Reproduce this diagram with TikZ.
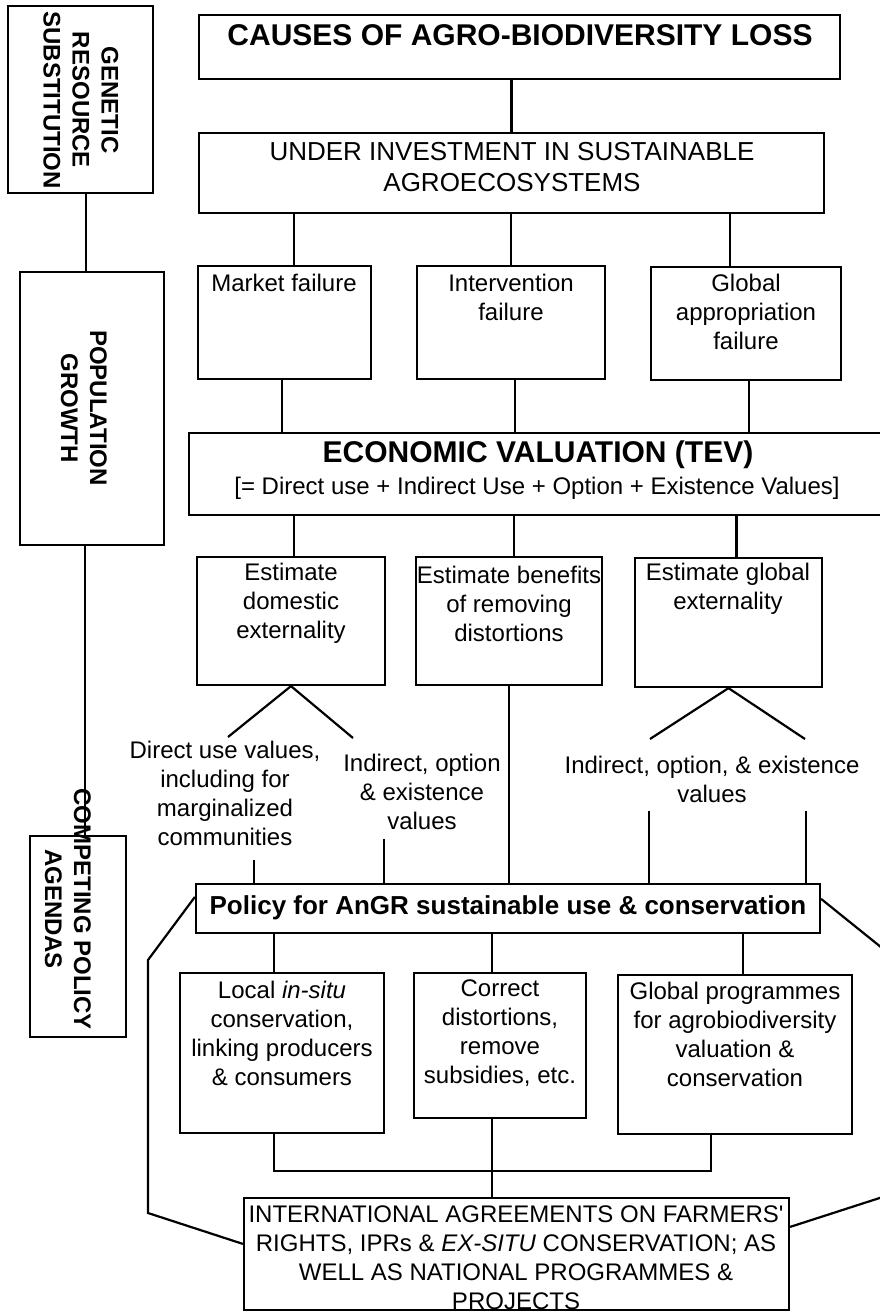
\documentclass[tikz,border=0pt]{standalone}
\usepackage{fontspec}
\setmainfont{Liberation Sans}
\usetikzlibrary{fit}
\begin{document}
\begin{tikzpicture}[x=1pt,y=-1pt,
  box/.style={draw, line width=2.2pt, inner sep=0pt},
  conn/.style={draw, line width=2.2pt},
  txt/.style={inner sep=0pt, align=center, font=\fontsize{24}{29}\selectfont},
  btxt/.style={inner sep=0pt, align=center, font=\bfseries\fontsize{24}{29}\selectfont},
  rtxt/.style={btxt, rotate=-90},
]
\useasboundingbox (0,0) rectangle (880,1312);
\clip (0,0) rectangle (880,1312);
\fill[white] (0,0) rectangle (880,1312);

% ---- left column: background drivers
\node[box, fit={(8,6) (153,193)}] (gen) {};
\node[rtxt] (gent) at (81,100) {GENETIC\\RESOURCE\\SUBSTITUTION};
\node[box, fit={(20,272) (164,545)}] (pop) {};
\node[rtxt] (popt) at (84,408) {POPULATION\\GROWTH};
\node[box, fit={(30,836) (126,1037)}] (comp) {};
\node[rtxt] (compt) at (68,909) {COMPETING POLICY\\AGENDAS};
\draw[conn] ([xshift=5.5]gen.south) -- ([xshift=5.5]gen.south |- pop.north);
\draw[conn] ([xshift=-7]pop.south) -- ([xshift=-7]pop.south |- comp.north);

% ---- causes
\node[box, fit={(199,15) (840,79)}] (cause) {};
\node[btxt, font=\bfseries\fontsize{30}{36}\selectfont] (causet) at (520,35) {CAUSES OF AGRO-BIODIVERSITY LOSS};
\node[box, fit={(199,133) (824,213)}] (inv) {};
\node[txt, font=\fontsize{26}{31}\selectfont] (invt) at (512,167.5) {UNDER INVESTMENT IN SUSTAINABLE\\AGROECOSYSTEMS};
\draw[conn] (inv.north |- cause.south) -- (inv.north);

% ---- failures
\node[box, fit={(198,266) (371,379)}] (mf) {};
\node[txt] (mft) at (284,283) {Market failure};
\node[box, fit={(417,266) (605,379)}] (if) {};
\node[txt] (ift) at (511,297.5) {Intervention\\failure};
\node[box, fit={(651,267) (841,380)}] (gf) {};
\node[txt] (gft) at (746,312) {Global\\appropriation\\failure};
\draw[conn] ([xshift=9.5]mf.north |- inv.south) -- ([xshift=9.5]mf.north);
\draw[conn] (if.north |- inv.south) -- (if.north);
\draw[conn] ([xshift=-16]gf.north |- inv.south) -- ([xshift=-16]gf.north);

% ---- economic valuation
\node[box, fit={(189,433) (886,515)}] (tev) {};
\node[btxt, font=\bfseries\fontsize{30}{36}\selectfont] (teva) at (538,455) {ECONOMIC VALUATION (TEV)};
\node[txt] (tevb) at (537,488) {{[}= Direct use + Indirect Use + Option + Existence Values{]}};
\draw[conn] ([xshift=-2.5]mf.south) -- ([xshift=-2.5]mf.south |- tev.north);
\draw[conn] ([xshift=4]if.south) -- ([xshift=4]if.south |- tev.north);
\draw[conn] ([xshift=3]gf.south) -- ([xshift=3]gf.south |- tev.north);

% ---- estimates
\node[box, fit={(197,557) (385,685)}] (dom) {};
\node[txt] (domt) at (291,603.5) {Estimate\\domestic\\externality};
\node[box, fit={(416,557) (602,685)}] (ben) {};
\node[txt] (bent) at (509,603.5) {Estimate benefits\\of removing\\distortions};
\node[box, fit={(635,558) (822,687)}] (gex) {};
\node[txt] (gext) at (728,589) {Estimate global\\externality};
\draw[conn] ([xshift=3]dom.north |- tev.south) -- ([xshift=3]dom.north);
\draw[conn] ([xshift=5]ben.north |- tev.south) -- ([xshift=5]ben.north);
\draw[conn] ([xshift=8]gex.north |- tev.south) -- ([xshift=8]gex.north);

% ---- value components
\node[txt] (dv) at (225,793.5) {Direct use values,\\including for\\marginalized\\communities};
\node[txt] (iv) at (422,791.5) {Indirect, option\\\& existence\\values};
\node[txt] (gv) at (712,779) {Indirect, option, \& existence\\values};
\coordinate (dvl) at (228,737);
\coordinate (dvr) at (353,738);
\coordinate (gvl) at (650,739);
\coordinate (gvr) at (805,739);
\draw[conn] (dvl) -- (dom.south) -- (dvr);
\draw[conn] (gvl) -- (gex.south) -- (gvr);

% ---- policy
\node[box, fit={(196,884) (820,933)}] (pol) {};
\node[btxt, font=\bfseries\fontsize{26}{31}\selectfont] (polt) at (508,908) {Policy for AnGR sustainable use \& conservation};
\coordinate (dvb) at (254,860);
\coordinate (ivb) at (384,839);
\coordinate (gvbl) at (649,811);
\coordinate (gvbr) at (806,811);
\draw[conn] (dvb) -- (dvb |- pol.north);
\draw[conn] (ivb) -- (ivb |- pol.north);
\draw[conn] (ben.south) -- (ben.south |- pol.north);
\draw[conn] (gvbl) -- (gvbl |- pol.north);
\draw[conn] (gvbr) -- (gvbr |- pol.north);

% ---- instruments
\node[box, fit={(180,973) (384,1133)}] (loc) {};
\node[txt] (loct) at (282,1033) {Local \textit{in-situ}\\conservation,\\linking producers\\\& consumers};
\node[box, fit={(414,973) (586,1118)}] (cor) {};
\node[txt] (cort) at (500,1033) {Correct\\distortions,\\remove\\subsidies, etc.};
\node[box, fit={(618,975) (852,1134)}] (glp) {};
\node[txt] (glpt) at (735,1034) {Global programmes\\for agrobiodiversity\\valuation \&\\conservation};
\draw[conn] ([xshift=-8]loc.north |- pol.south) -- ([xshift=-8]loc.north);
\draw[conn] ([xshift=-8]cor.north |- pol.south) -- ([xshift=-8]cor.north);
\draw[conn] ([xshift=8]glp.north |- pol.south) -- ([xshift=8]glp.north);

% ---- international agreements
\node[box, fit={(244,1198) (789,1310)}] (intl) {};
\node[txt] (intlt) at (516,1257.5) {INTERNATIONAL AGREEMENTS ON FARMERS\textquotesingle\\RIGHTS, IPRs \& \textit{EX-SITU} CONSERVATION; AS\\WELL AS NATIONAL PROGRAMMES \&\\PROJECTS};
\coordinate (join) at (274,1171);
\draw[conn] ([xshift=-8]loc.south) -- ([xshift=-8]loc.south |- join) -- ([xshift=-24]glp.south |- join) -- ([xshift=-24]glp.south);
\draw[conn] ([xshift=-8]cor.south) -- ([xshift=-8]cor.south |- intl.north);

% ---- outer frame linking policy and agreements
\coordinate (lt) at (148,960);
\coordinate (lb) at (148,1213);
\coordinate (rt) at (892,956);
\coordinate (rb) at (892,1194);
\draw[conn] ([yshift=-14]pol.north west) -- (lt) -- (lb) -- ([yshift=-47]intl.north west);
\draw[conn] ([yshift=-16]pol.north east) -- (rt) -- (rb) -- ([yshift=-30]intl.north east);
\end{tikzpicture}
\end{document}
